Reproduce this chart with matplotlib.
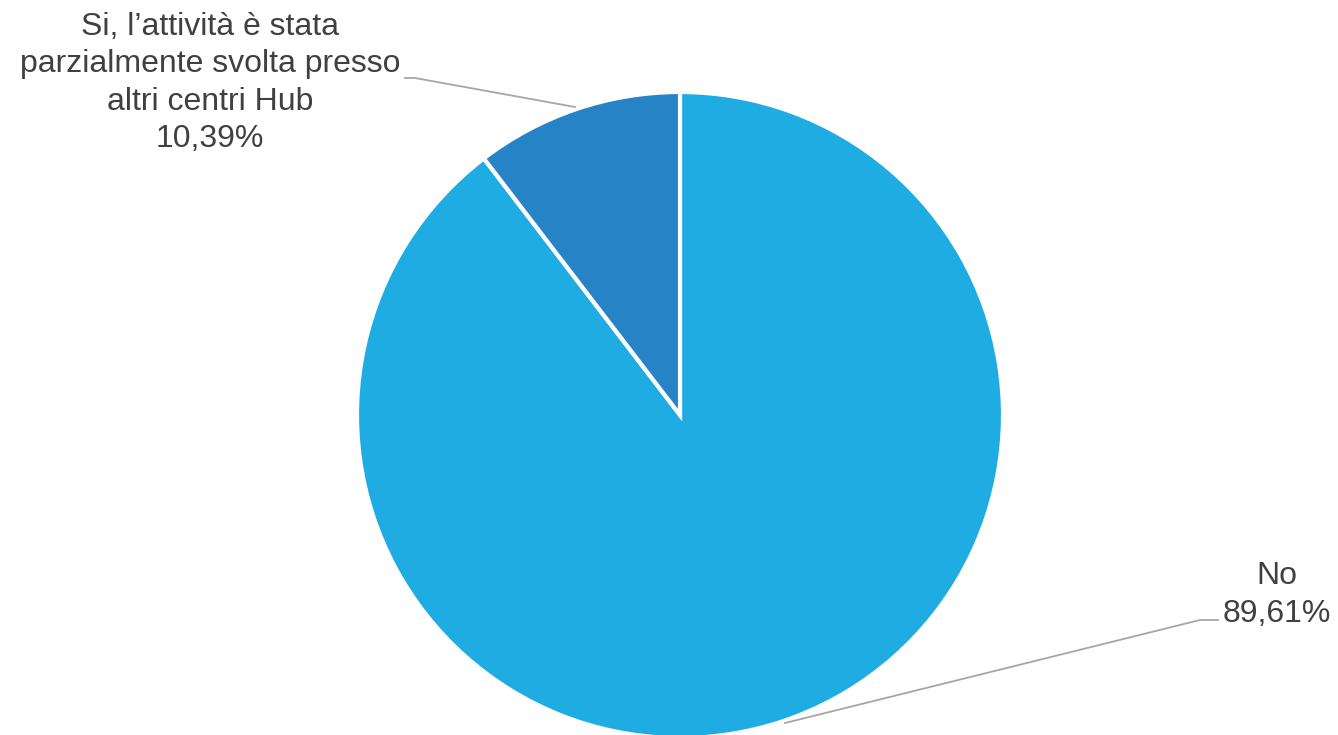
import matplotlib
matplotlib.use("Agg")
import matplotlib.pyplot as plt

labels = ["No", "Si, l\u2019attivit\u00e0 \u00e8 stata\nparzialmente svolta presso\naltri centri Hub"]
values = [89.61, 10.39]
colors = ["#1FACE3", "#2683C6"]

W, H = 1338, 735
fig = plt.figure(figsize=(W / 100, H / 100), dpi=100)
ax = fig.add_axes([0, 0, 1, 1])

cx, cy, r = 680, H - 415, 323
ax.pie(values, colors=colors, startangle=90, counterclock=False,
       center=(cx, cy), radius=r, frame=True,
       wedgeprops=dict(edgecolor="white", linewidth=3))
ax.set_xlim(0, W)
ax.set_ylim(0, H)
ax.set_aspect("equal")
ax.axis("off")

# etichette con percentuale in formato italiano
txt = dict(fontsize=23, color="#404040", family="Liberation Sans",
           ha="center", va="center", linespacing=1.33)
ax.text(210, H - 83, labels[1] + "\n" + ("%.2f%%" % values[1]).replace(".", ","), **txt)
ax.text(1277, H - 595, labels[0] + "\n" + ("%.2f%%" % values[0]).replace(".", ","), **txt)

lc = "#A6A6A6"
ax.plot([405, 415, 575], [H - 78, H - 78, H - 107], color=lc, lw=1.3)
ax.plot([785, 1200, 1218], [H - 723, H - 620, H - 620], color=lc, lw=1.3)

fig.savefig("out.png", dpi=100)
